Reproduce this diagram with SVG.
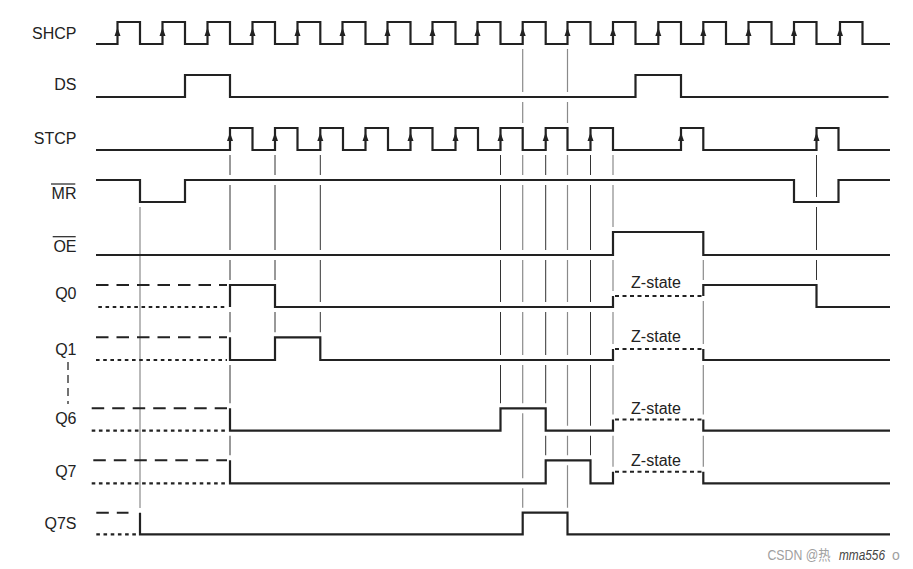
<svg xmlns="http://www.w3.org/2000/svg" xmlns:xlink="http://www.w3.org/1999/xlink" width="913" height="569" viewBox="0 0 913 569">
<style>
  .sig { fill: none; stroke: #222; stroke-width: 2.2; stroke-linejoin: miter; }
  .lbl { font-family: "Liberation Sans", Arial, sans-serif; font-size: 16px; fill: #222; text-anchor: end; }
  .zlbl { font-family: "Liberation Sans", Arial, sans-serif; font-size: 16px; fill: #222; text-anchor: middle; }
  .dash { fill: none; stroke: #222; stroke-width: 2; stroke-dasharray: 12.5 8; }
  .dot { fill: none; stroke: #222; stroke-width: 2.2; stroke-dasharray: 3.6 3.6; }
  .zdot { fill: none; stroke: #222; stroke-width: 2; stroke-dasharray: 4 3.5; }
  .g-dark { stroke: #333; stroke-width: 1; fill: none; }
  .g-grey { stroke: #8a8a8a; stroke-width: 1.2; fill: none; }
  .arrow { fill: #222; stroke: none; }
  .ovl { stroke: #222; stroke-width: 1.2; }
  .wm { font-family: "Liberation Sans", Arial, "Noto Sans CJK SC", sans-serif; font-size: 14px; }
</style>
<defs>
  <mask id="gap" maskUnits="userSpaceOnUse" x="0" y="0" width="913" height="569">
    <rect x="0" y="0" width="913" height="569" fill="#fff"/>
    <g fill="none" stroke="#000" stroke-width="10" stroke-linecap="square" stroke-linejoin="miter">
      <use xlink:href="#p-SHCP" href="#p-SHCP"/>
      <use xlink:href="#p-DS" href="#p-DS"/>
      <use xlink:href="#p-STCP" href="#p-STCP"/>
      <use xlink:href="#p-MR" href="#p-MR"/>
      <use xlink:href="#p-OE" href="#p-OE"/>
      <use xlink:href="#p-Q0" href="#p-Q0"/>
      <use xlink:href="#p-Q1" href="#p-Q1"/>
      <use xlink:href="#p-Q6" href="#p-Q6"/>
      <use xlink:href="#p-Q7" href="#p-Q7"/>
      <use xlink:href="#p-Q7S" href="#p-Q7S"/>
    </g>
  </mask>
</defs>
<rect x="0" y="0" width="913" height="569" fill="#fff"/>

<g id="connectors">
  <g mask="url(#gap)">
    <line class="g-dark" x1="230" y1="150" x2="230" y2="460.3"/>
    <line class="g-dark" x1="275" y1="150" x2="275" y2="337.3"/>
    <line class="g-dark" x1="320.3" y1="150" x2="320.3" y2="337.3"/>
    <line class="g-dark" x1="500.5" y1="150" x2="500.5" y2="408.3"/>
    <line class="g-grey" x1="522.7" y1="44" x2="522.7" y2="512.7"/>
    <line class="g-dark" x1="545.7" y1="150" x2="545.7" y2="460.3"/>
    <line class="g-grey" x1="567.5" y1="44" x2="567.5" y2="512.7"/>
    <line class="g-dark" x1="590.5" y1="150" x2="590.5" y2="460.3"/>
    <line class="g-grey" x1="613" y1="150" x2="613" y2="471.8"/>
    <line class="g-grey" x1="703.3" y1="255" x2="703.3" y2="471.8"/>
    <line class="g-dark" x1="816.5" y1="150" x2="816.5" y2="285"/>
  </g>
  <line class="g-grey" x1="140" y1="207" x2="140" y2="508"/>
  <line x1="68" y1="362" x2="68" y2="404" stroke="#444" stroke-width="1.5" stroke-dasharray="8 5"/>
</g>

<g id="SHCP">
  <text class="lbl" x="76.5" y="38.5">SHCP</text>
  <g class="sig"><path id="p-SHCP" d="M96,44 H117.5 V22 H140 V44 H162.5 V22 H185 V44 H207.5 V22 H230 V44 H252.5 V22 H275 V44 H297.5 V22 H320.3 V44 H342.5 V22 H365.5 V44 H387.5 V22 H410.5 V44 H432.5 V22 H455.5 V44 H477.5 V22 H500.5 V44 H522.7 V22 H545.7 V44 H567.5 V22 H590.5 V44 H613 V22 H635.5 V44 H658.3 V22 H681 V44 H703.3 V22 H726 V44 H748.5 V22 H771.5 V44 H794 V22 H816.5 V44 H840 V22 H862.5 V44 H890"/></g>
  <g class="arrow">
    <polygon points="117.5,27.5 114.5,36 120.5,36"/>
    <polygon points="162.5,27.5 159.5,36 165.5,36"/>
    <polygon points="207.5,27.5 204.5,36 210.5,36"/>
    <polygon points="252.5,27.5 249.5,36 255.5,36"/>
    <polygon points="297.5,27.5 294.5,36 300.5,36"/>
    <polygon points="342.5,27.5 339.5,36 345.5,36"/>
    <polygon points="387.5,27.5 384.5,36 390.5,36"/>
    <polygon points="432.5,27.5 429.5,36 435.5,36"/>
    <polygon points="477.5,27.5 474.5,36 480.5,36"/>
    <polygon points="522.7,27.5 519.7,36 525.7,36"/>
    <polygon points="567.5,27.5 564.5,36 570.5,36"/>
    <polygon points="613,27.5 610,36 616,36"/>
    <polygon points="658.3,27.5 655.3,36 661.3,36"/>
    <polygon points="703.3,27.5 700.3,36 706.3,36"/>
    <polygon points="748.5,27.5 745.5,36 751.5,36"/>
    <polygon points="794,27.5 791,36 797,36"/>
    <polygon points="840,27.5 837,36 843,36"/>
  </g>
</g>

<g id="DS">
  <text class="lbl" x="76.5" y="90">DS</text>
  <g class="sig"><path id="p-DS" d="M96,97 H185 V75 H230 V97 H635.5 V75 H681 V97 H888.5"/></g>
</g>

<g id="STCP">
  <text class="lbl" x="76.5" y="144">STCP</text>
  <g class="sig"><path id="p-STCP" d="M96,150 H230 V128 H252.5 V150 H275 V128 H297.5 V150 H320.3 V128 H343 V150 H365.5 V128 H388 V150 H410.5 V128 H432.5 V150 H455.5 V128 H478 V150 H500.5 V128 H522.7 V150 H545.7 V128 H567.5 V150 H590.5 V128 H613 V150 H681 V128 H703.3 V150 H816.5 V128 H838.5 V150 H890"/></g>
  <g class="arrow">
    <polygon points="230,132.5 227,141 233,141"/>
    <polygon points="275,132.5 272,141 278,141"/>
    <polygon points="320.3,132.5 317.3,141 323.3,141"/>
    <polygon points="365.5,132.5 362.5,141 368.5,141"/>
    <polygon points="410.5,132.5 407.5,141 413.5,141"/>
    <polygon points="455.5,132.5 452.5,141 458.5,141"/>
    <polygon points="500.5,132.5 497.5,141 503.5,141"/>
    <polygon points="545.7,132.5 542.7,141 548.7,141"/>
    <polygon points="590.5,132.5 587.5,141 593.5,141"/>
    <polygon points="681,132.5 678,141 684,141"/>
    <polygon points="816.5,132.5 813.5,141 819.5,141"/>
  </g>
</g>

<g id="MR">
  <text class="lbl" x="76.5" y="199.3">MR</text>
  <line class="ovl" x1="51" y1="184" x2="75.3" y2="184"/>
  <g class="sig"><path id="p-MR" d="M96,180 H140 V202 H185 V180 H794 V202 H838.5 V180 H890"/></g>
</g>

<g id="OE">
  <text class="lbl" x="76.5" y="252.3">OE</text>
  <line class="ovl" x1="52.7" y1="236.7" x2="75.7" y2="236.7"/>
  <g class="sig"><path id="p-OE" d="M96,255 H613 V232 H703.3 V255 H890"/></g>
</g>

<g id="Q0">
  <text class="lbl" x="76.5" y="299">Q0</text>
  <path class="dash" d="M96,285 H227"/>
  <path class="dot" d="M98.3,307 H227"/>
  <g class="sig"><path id="p-Q0" d="M230,307 V285 H275 V307 H613 V296 M703.3,296 V285 H816.5 V307 H890"/></g>
  <path class="zdot" d="M615,296 H703"/>
  <text class="zlbl" x="656" y="287.7">Z-state</text>
</g>

<g id="Q1">
  <text class="lbl" x="76.5" y="355">Q1</text>
  <path class="dash" d="M96,337.3 H227"/>
  <path class="dot" d="M96,360 H227"/>
  <g class="sig"><path id="p-Q1" d="M230,337.3 V360 H275 V337.3 H320.3 V360 H613 V349 M703.3,349 V360 H890"/></g>
  <path class="zdot" d="M615,349 H703"/>
  <text class="zlbl" x="656" y="341.7">Z-state</text>
</g>

<g id="Q6">
  <text class="lbl" x="76.5" y="424.3">Q6</text>
  <path class="dash" d="M91.7,408.3 H227"/>
  <path class="dot" d="M91.7,430.7 H227"/>
  <g class="sig"><path id="p-Q6" d="M230,408.3 V430.7 H500.5 V408.3 H545.7 V430.7 H613 V419.5 M703.3,419.5 V430.7 H890"/></g>
  <path class="zdot" d="M615,419.5 H703"/>
  <text class="zlbl" x="656" y="414.3">Z-state</text>
</g>

<g id="Q7">
  <text class="lbl" x="76.5" y="476.7">Q7</text>
  <path class="dash" d="M93.3,460.3 H227"/>
  <path class="dot" d="M91.7,483.3 H227"/>
  <g class="sig"><path id="p-Q7" d="M230,460.3 V483.3 H545.7 V460.3 H590.5 V483.3 H613 V471.8 M703.3,471.8 V483.3 H890"/></g>
  <path class="zdot" d="M615,471.8 H703"/>
  <text class="zlbl" x="656" y="466.3">Z-state</text>
</g>

<g id="Q7S">
  <text class="lbl" x="76.5" y="529">Q7S</text>
  <path class="dash" d="M96.3,512.7 H128.5"/>
  <path class="dot" d="M96.3,534.3 H137"/>
  <g class="sig"><path id="p-Q7S" d="M140,512.7 V534.3 H522.7 V512.7 H567.5 V534.3 H890"/></g>
</g>

<g id="watermark">
  <text class="wm" x="767.5" y="560" fill="#a0a0a0" font-size="14" textLength="63" lengthAdjust="spacingAndGlyphs">CSDN @热</text>
  <text class="wm" x="839" y="560" fill="#444" font-style="italic" textLength="46" lengthAdjust="spacingAndGlyphs">mma556</text>
  <text class="wm" x="892" y="560" fill="#a0a0a0">o</text>
</g>
</svg>
